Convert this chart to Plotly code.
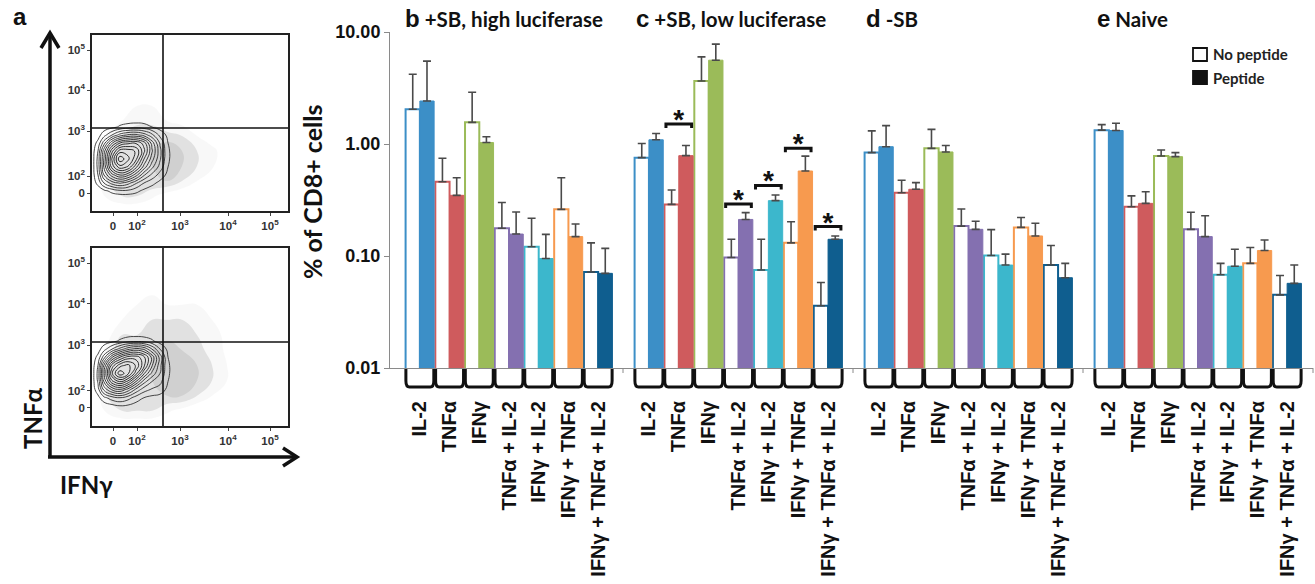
import plotly.graph_objects as go

W, H = 1315, 584
def fx(p): return p / W
def fy(p): return 1 - p / H

# ---------------- data ----------------
categories = ["IL-2", "TNFα", "IFNγ", "TNFα + IL-2", "IFNγ + IL-2",
              "IFNγ + TNFα", "IFNγ + TNFα + IL-2"]
colors = ["#3c8fc7", "#cf5b5d", "#9bbb59", "#8470b0", "#3cb7cc", "#f79a4f", "#0f5e8f"]
panel_letters = ["b", "c", "d", "e"]
panel_names = ["+SB, high luciferase", "+SB, low luciferase", "-SB", "Naive"]

# panel b: +SB, high luciferase
b_nopep = [2.04, 0.46, 1.56, 0.177, 0.121, 0.261, 0.072]
b_nopep_top = [4.2, 0.745, 2.9, 0.30, 0.217, 0.50, 0.131]
b_pep = [2.42, 0.348, 1.03, 0.157, 0.095, 0.149, 0.070]
b_pep_top = [5.5, 0.50, 1.16, 0.247, 0.156, 0.193, 0.117]
# panel c: +SB, low luciferase
c_nopep = [0.755, 0.289, 3.65, 0.097, 0.075, 0.131, 0.036]
c_nopep_top = [1.01, 0.388, 6.0, 0.141, 0.141, 0.202, 0.058]
c_pep = [1.09, 0.787, 5.6, 0.212, 0.312, 0.574, 0.141]
c_pep_top = [1.24, 0.97, 7.8, 0.244, 0.351, 0.78, 0.151]
# panel d: -SB
d_nopep = [0.838, 0.367, 0.914, 0.185, 0.101, 0.180, 0.083]
d_nopep_top = [1.31, 0.474, 1.35, 0.263, 0.172, 0.221, 0.124]
d_pep = [0.946, 0.394, 0.849, 0.173, 0.083, 0.151, 0.064]
d_pep_top = [1.46, 0.452, 0.97, 0.204, 0.104, 0.196, 0.086]
# panel e: Naive
e_nopep = [1.33, 0.275, 0.782, 0.173, 0.068, 0.086, 0.045]
e_nopep_top = [1.49, 0.344, 0.884, 0.246, 0.086, 0.119, 0.067]
e_pep = [1.32, 0.295, 0.771, 0.149, 0.081, 0.112, 0.057]
e_pep_top = [1.53, 0.375, 0.837, 0.229, 0.115, 0.139, 0.083]

# significance markers in panel c (group index, bracket level)
sig_groups = [1, 3, 4, 5, 6]
sig_levels = [1.51, 0.291, 0.427, 0.914, 0.183]

y_tickvals = [0.01, 0.1, 1, 10]
y_ticktext = ["0.01", "0.10", "1.00", "10.00"]

# flow cytometry panels (display units of the biexponential axes)
flow_xtick_pos = [21, 45, 88, 136, 178]
flow_xtick_text = ["0", "10<sup>2</sup>", "10<sup>3</sup>", "10<sup>4</sup>", "10<sup>5</sup>"]
flow_ytick_pos = [18, 35, 80, 121, 161]
flow_ytick_text = ["0", "10<sup>2</sup>", "10<sup>3</sup>", "10<sup>4</sup>", "10<sup>5</sup>"]
flow_gate_x = 71
flow_gate_y = 83

# estimated event density of the contoured population
blob_u = [0, 6, 12, 20, 28, 36, 44, 52, 60, 68, 76, 84]
blob_v = [14, 20, 28, 36, 44, 52, 60, 68, 76, 84, 92]
blob_top = [
    [0, 0, 0, 0, 0, 0, 0, 0, 0, 0, 0, 0],
    [0, 0, 0.2, 0.6, 0.9, 0.9, 0.6, 0.2, 0, 0, 0, 0],
    [0, 0.6, 1.8, 2.8, 3.3, 2.8, 1.9, 1.1, 0.6, 0.2, 0, 0],
    [0, 1.1, 3.2, 5, 6, 5.5, 4.2, 2.6, 1.6, 0.8, 0.2, 0],
    [0, 1.3, 4, 7, 8.5, 8, 6.2, 4.3, 2.7, 1.5, 0.4, 0],
    [0, 1.3, 4, 7.5, 10, 9, 7.6, 5.3, 3.5, 1.9, 0.5, 0],
    [0, 1.1, 3.6, 6.5, 8.5, 8.5, 8, 6.2, 4, 2, 0.5, 0],
    [0, 0.6, 2.2, 4.5, 6, 6.5, 6.6, 5.7, 3.6, 1.7, 0.4, 0],
    [0, 0.1, 0.8, 1.8, 2.8, 3.3, 3.4, 2.9, 2, 0.9, 0.2, 0],
    [0, 0, 0, 0.2, 0.5, 0.7, 0.8, 0.7, 0.4, 0.1, 0, 0],
    [0, 0, 0, 0, 0, 0, 0, 0, 0, 0, 0, 0],
]
blob_bottom = [
    [0, 0, 0, 0, 0, 0, 0, 0, 0, 0, 0, 0],
    [0, 0, 0, 0.2, 0.4, 0.3, 0.1, 0, 0, 0, 0, 0],
    [0, 0.2, 0.9, 1.5, 1.8, 1.4, 0.8, 0.4, 0.2, 0.1, 0, 0],
    [0, 0.8, 2.7, 4, 4.5, 3.6, 2.3, 1.4, 1, 0.8, 0.2, 0],
    [0, 1.2, 4, 6.5, 7.5, 6.5, 4.6, 2.8, 1.8, 1.3, 0.4, 0],
    [0, 1.3, 4.5, 8, 10, 9, 7, 4.7, 3, 1.8, 0.5, 0],
    [0, 1.1, 4, 7, 8.5, 9, 8, 6.2, 4, 2, 0.5, 0],
    [0, 0.6, 2.2, 4.5, 6, 7, 7.1, 6.2, 4.4, 2.2, 0.4, 0],
    [0, 0.1, 0.8, 1.8, 2.8, 3.7, 4.2, 3.8, 2.5, 1.1, 0.2, 0],
    [0, 0, 0, 0.2, 0.5, 0.8, 0.9, 0.8, 0.5, 0.1, 0, 0],
    [0, 0, 0, 0, 0, 0, 0, 0, 0, 0, 0, 0],
]
# estimated density of the sparse dot cloud
cloud_u = [0, 15, 30, 45, 60, 75, 90, 105, 120, 135, 150, 196]
cloud_v = [0, 15, 30, 45, 60, 75, 90, 105, 120, 176]
cloud_top = [
    [0, 0, 0, 0, 0, 0, 0, 0, 0, 0, 0, 0],
    [0, 0.6, 1, 1, 0.6, 0.2, 0, 0, 0, 0, 0, 0],
    [0, 1, 1.5, 1.5, 1.5, 1.5, 1, 0.5, 0, 0, 0, 0],
    [0, 1, 1.5, 1.5, 1.5, 2, 1.5, 1, 0.6, 0, 0, 0],
    [0, 1, 1.5, 1.5, 1.5, 2, 1.5, 1, 0.6, 0.3, 0, 0],
    [0, 0.6, 1, 1.5, 1.5, 1.2, 1, 0.5, 0.3, 0, 0, 0],
    [0, 0, 0.5, 0.8, 0.8, 0.5, 0.3, 0, 0, 0, 0, 0],
    [0, 0, 0, 0.5, 0.5, 0, 0, 0, 0, 0, 0, 0],
    [0, 0, 0, 0, 0, 0, 0, 0, 0, 0, 0, 0],
    [0, 0, 0, 0, 0, 0, 0, 0, 0, 0, 0, 0],
]
cloud_bottom = [
    [0, 0, 0, 0, 0, 0, 0, 0, 0, 0, 0, 0],
    [0, 0.6, 1, 1, 1, 0.6, 0.3, 0, 0, 0, 0, 0],
    [0, 1, 1.5, 1.5, 1.5, 1.5, 1.5, 1, 0.5, 0, 0, 0],
    [0, 1, 1.5, 1.5, 1.5, 2, 2, 1.5, 1, 0.5, 0, 0],
    [0, 1, 1.5, 1.5, 1.5, 2, 2, 1.5, 1, 0.5, 0, 0],
    [0, 0.6, 1.5, 1.5, 1.5, 2, 1.5, 1.2, 0.8, 0.4, 0, 0],
    [0, 0.3, 1, 1, 1.2, 1.2, 1.2, 1, 0.8, 0.3, 0, 0],
    [0, 0, 0.5, 0.8, 1, 1, 1, 0.8, 0.5, 0, 0, 0],
    [0, 0, 0, 0.5, 0.6, 0.5, 0.5, 0.5, 0.3, 0, 0, 0],
    [0, 0, 0, 0, 0, 0, 0, 0, 0, 0, 0, 0],
]

# ---------------- figure ----------------
fig = go.Figure()
panels = [
    (b_nopep, b_nopep_top, b_pep, b_pep_top),
    (c_nopep, c_nopep_top, c_pep, c_pep_top),
    (d_nopep, d_nopep_top, d_pep, d_pep_top),
    (e_nopep, e_nopep_top, e_pep, e_pep_top),
]
xnames = ["x", "x2", "x3", "x4"]
groups = list(range(len(categories)))

for i, (npv, npt, pv, pt) in enumerate(panels):
    xa = xnames[i]
    fig.add_trace(go.Bar(
        x=groups, y=npv, xaxis=xa, yaxis="y", name="No peptide", showlegend=False,
        marker=dict(color="white", line=dict(color=colors, width=2)),
        error_y=dict(type="data", symmetric=False,
                     array=[t - v for t, v in zip(npt, npv)],
                     arrayminus=[0] * len(npv), color="#4a4a4a", thickness=1.6, width=4),
    ))
    fig.add_trace(go.Bar(
        x=groups, y=pv, xaxis=xa, yaxis="y", name="Peptide", showlegend=False,
        marker=dict(color=colors, line=dict(color=colors, width=1)),
        error_y=dict(type="data", symmetric=False,
                     array=[t - v for t, v in zip(pt, pv)],
                     arrayminus=[0] * len(pv), color="#4a4a4a", thickness=1.6, width=4),
    ))

# significance brackets (panel c)
tick_down = 10 ** (-4 / 112)
for g, lev in zip(sig_groups, sig_levels):
    fig.add_trace(go.Scatter(
        x=[g - 0.43, g - 0.43, g + 0.43, g + 0.43],
        y=[lev * tick_down, lev, lev, lev * tick_down],
        xaxis="x2", yaxis="y", mode="lines", showlegend=False,
        line=dict(color="#111", width=3), hoverinfo="skip",
    ))
    fig.add_trace(go.Scatter(
        x=[g], y=[lev * 10 ** (2 / 112)], xaxis="x2", yaxis="y", mode="text",
        text=["*"], textposition="middle center", showlegend=False,
        textfont=dict(family="Liberation Sans", size=28, color="#111", weight="bold"),
        hoverinfo="skip", cliponaxis=False,
    ))

# flow panels
flow_sets = [("x5", "y5", blob_top, cloud_top), ("x6", "y6", blob_bottom, cloud_bottom)]
for xa, ya, blob, cloud in flow_sets:
    fig.add_trace(go.Contour(
        x=cloud_u, y=cloud_v, z=cloud, xaxis=xa, yaxis=ya, showscale=False,
        contours=dict(coloring="fill", start=0.5, end=2, size=0.5, showlines=False),
        colorscale=[[0, "rgba(255,255,255,0)"], [0.25, "rgba(238,238,238,1)"],
                    [1, "rgba(200,200,200,1)"]],
        zmin=0, zmax=2, line=dict(smoothing=1.3, width=0), hoverinfo="skip",
    ))
    fig.add_trace(go.Contour(
        x=blob_u, y=blob_v, z=blob, xaxis=xa, yaxis=ya, showscale=False,
        contours=dict(coloring="lines", start=0.4, end=10, size=0.7),
        colorscale=[[0, "#333"], [1, "#111"]],
        line=dict(smoothing=1.3, width=0.9), hoverinfo="skip",
    ))

# ---------------- layout ----------------
bar_font = dict(family="Liberation Sans", size=20, color="#111", weight="bold")
axis_line = "#8a8a8a"
# pixel layout of the four bar panels: (domain left, domain right, first bar px, last bar px)
panel_px = [(390, 623, 405, 613), (623, 853, 634, 843), (853, 1083, 864, 1073), (1083, 1313, 1094, 1302)]
layout = dict(
    width=W, height=H, margin=dict(l=0, r=0, t=0, b=0),
    paper_bgcolor="white", plot_bgcolor="rgba(0,0,0,0)", template="none",
    barmode="group", bargap=0.04, bargroupgap=0,
    yaxis=dict(domain=[fy(368), fy(32)], type="log", range=[-2, 1], anchor="x",
               tickvals=y_tickvals, ticktext=y_ticktext,
               tickfont=dict(family="Liberation Sans", size=18, color="#111", weight="bold"),
               showline=True, linecolor=axis_line, linewidth=1, ticks="outside", ticklen=5,
               tickcolor=axis_line, showgrid=False, zeroline=False, automargin=False),
)
for i, (d0, d1, b0, b1) in enumerate(panel_px):
    unit = (b1 - b0) / 7
    rng = [-0.5 - (b0 - d0) / unit, 6.5 + (d1 - b1) / unit]
    key = "xaxis" if i == 0 else f"xaxis{i + 1}"
    layout[key] = dict(domain=[fx(d0), fx(d1)], anchor="y", range=rng,
                       tickvals=groups, ticktext=categories, tickangle=-90,
                       tickfont=bar_font, ticks="", ticklabelstandoff=24,
                       showline=True, linecolor=axis_line, linewidth=1,
                       showgrid=False, zeroline=False, automargin=False)

flow_tick_font = dict(family="Liberation Sans", size=11.5, color="#333", weight="bold")
for xa, ya, ytop, ybot in [("xaxis5", "yaxis5", 35, 211), ("xaxis6", "yaxis6", 248, 426)]:
    layout[xa] = dict(domain=[fx(92), fx(288)], range=[0, 196], anchor=ya.replace("axis", ""),
                      tickvals=flow_xtick_pos, ticktext=flow_xtick_text, tickfont=flow_tick_font,
                      showline=True, mirror=True, linecolor="#222", linewidth=1.5,
                      ticks="outside", ticklen=3, tickcolor="#444",
                      showgrid=False, zeroline=False, automargin=False, fixedrange=True)
    layout[ya] = dict(domain=[fy(ybot), fy(ytop)], range=[0, 176], anchor=xa.replace("axis", ""),
                      tickvals=flow_ytick_pos, ticktext=flow_ytick_text, tickfont=flow_tick_font,
                      showline=True, mirror=True, linecolor="#222", linewidth=1.5,
                      ticks="outside", ticklen=3, tickcolor="#444",
                      showgrid=False, zeroline=False, automargin=False, fixedrange=True)
fig.update_layout(**layout)

shapes = []
annotations = []
# group brackets under the bar axis
yt, yb = fy(369), fy(387)
rr = (yt - yb) * 0.35
for i in range(4):
    xr = xnames[i]
    for g in groups:
        l, r = g - 0.47, g + 0.47
        path = (f"M {l},{yt} L {l},{yb + rr} Q {l},{yb} {l + 0.12},{yb} "
                f"L {r - 0.12},{yb} Q {r},{yb} {r},{yb + rr} L {r},{yt}")
        shapes.append(dict(type="path", path=path, xref=xr, yref="paper",
                           line=dict(color="#111", width=3)))
# small separator ticks on the bar axis
for px_ in [623, 853, 1083, 1313]:
    shapes.append(dict(type="line", xref="paper", yref="paper", x0=fx(px_), x1=fx(px_),
                       y0=fy(368), y1=fy(373), line=dict(color=axis_line, width=1)))
# quadrant gates
for xa, ya in [("x5", "y5"), ("x6", "y6")]:
    shapes.append(dict(type="line", xref=xa, yref=ya, x0=flow_gate_x, x1=flow_gate_x, y0=0, y1=176,
                       line=dict(color="#111", width=1.6)))
    shapes.append(dict(type="line", xref=xa, yref=ya, x0=0, x1=196, y0=flow_gate_y, y1=flow_gate_y,
                       line=dict(color="#111", width=1.6)))
# big axis arrows of panel a
shapes.append(dict(type="line", xref="paper", yref="paper", x0=fx(50), x1=fx(50), y0=fy(458), y1=fy(34),
                   line=dict(color="#111", width=3.5)))
shapes.append(dict(type="path", xref="paper", yref="paper",
                   path=f"M {fx(41)},{fy(48)} L {fx(50)},{fy(33)} L {fx(59)},{fy(48)}",
                   line=dict(color="#111", width=3.5)))
shapes.append(dict(type="line", xref="paper", yref="paper", x0=fx(48), x1=fx(296), y0=fy(457), y1=fy(457),
                   line=dict(color="#111", width=3.5)))
shapes.append(dict(type="path", xref="paper", yref="paper",
                   path=f"M {fx(283)},{fy(448)} L {fx(297)},{fy(457)} L {fx(283)},{fy(466)}",
                   line=dict(color="#111", width=3.5)))
# legend boxes
shapes.append(dict(type="rect", xref="paper", yref="paper", x0=fx(1193), x1=fx(1207), y0=fy(61), y1=fy(48),
                   line=dict(color="#111", width=1.8), fillcolor="white"))
shapes.append(dict(type="rect", xref="paper", yref="paper", x0=fx(1193), x1=fx(1207), y0=fy(84), y1=fy(71),
                   line=dict(color="#111", width=1.8), fillcolor="#111"))

title_font = "Lato"
annotations.append(dict(text="<b>No peptide</b>", x=fx(1211), y=fy(54), xref="paper", yref="paper",
                        xanchor="left", yanchor="middle", showarrow=False,
                        font=dict(family=title_font, size=15, color="#222")))
annotations.append(dict(text="<b>Peptide</b>", x=fx(1211), y=fy(78), xref="paper", yref="paper",
                        xanchor="left", yanchor="middle", showarrow=False,
                        font=dict(family=title_font, size=15, color="#222")))
# panel titles
title_x = [403, 634, 864, 1095]
for lt, nm, tx in zip(panel_letters, panel_names, title_x):
    annotations.append(dict(
        text=f"<b><span style='font-family:Liberation Sans;font-size:24px'>{lt}</span> {nm}</b>",
        x=fx(tx), y=fy(19), xref="paper", yref="paper", xanchor="left", yanchor="middle",
        showarrow=False, font=dict(family=title_font, size=20.5, color="#111")))
# y axis title
annotations.append(dict(text="<b>% of CD8+ cells</b>", x=fx(312), y=fy(192), xref="paper", yref="paper",
                        xanchor="center", yanchor="middle", textangle=-90, showarrow=False,
                        font=dict(family=title_font, size=25, color="#111")))
# panel a labels
annotations.append(dict(text="<b>a</b>", x=fx(20), y=fy(17), xref="paper", yref="paper",
                        xanchor="center", yanchor="middle", showarrow=False,
                        font=dict(family="Liberation Sans", size=24, color="#111")))
annotations.append(dict(text="<b>TNFα</b>", x=fx(32), y=fy(418), xref="paper", yref="paper",
                        xanchor="center", yanchor="middle", textangle=-90, showarrow=False,
                        font=dict(family=title_font, size=24, color="#111")))
annotations.append(dict(text="<b>IFNγ</b>", x=fx(86), y=fy(484), xref="paper", yref="paper",
                        xanchor="center", yanchor="middle", showarrow=False,
                        font=dict(family=title_font, size=24, color="#111")))

fig.update_layout(shapes=shapes, annotations=annotations)
fig.write_html("out.html")
